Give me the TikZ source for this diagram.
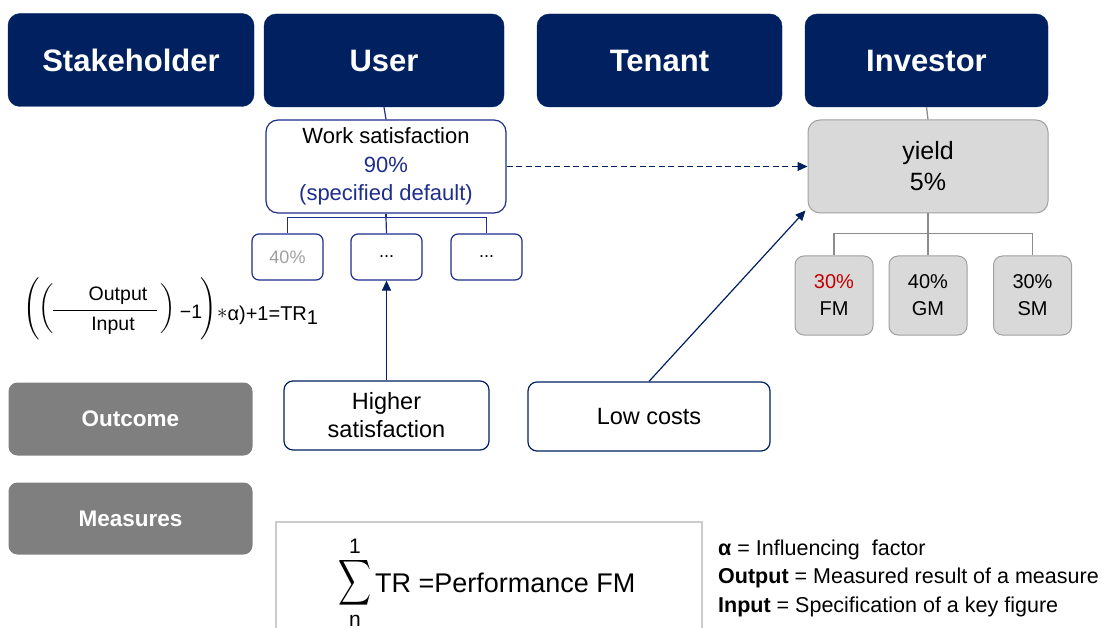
\documentclass[tikz,border=0pt]{standalone}
\usepackage{fontspec}
\usepackage{amsmath}
\usepackage{graphicx}
\setmainfont{Liberation Sans}
\usetikzlibrary{arrows.meta}
\definecolor{navy}{HTML}{002060}
\definecolor{bline}{HTML}{1F2D8C}
\definecolor{gfill}{HTML}{D9D9D9}
\definecolor{gline}{HTML}{A0A0A0}
\definecolor{gconn}{HTML}{8C8C8C}
\definecolor{ofill}{HTML}{7F7F7F}
\definecolor{fmred}{HTML}{C00000}
\tikzset{
  header/.style={fill=navy, draw=navy, rounded corners=12pt, text=white, font=\fontsize{31}{36}\selectfont\bfseries, minimum height=93pt, inner sep=0pt},
  wsbox/.style={draw=bline, line width=1.2pt, fill=white, rounded corners=12pt, minimum width=240pt, minimum height=93pt, align=center, inner sep=0pt},
  smallbox/.style={draw=bline, line width=1.2pt, rounded corners=7pt, minimum width=71pt, minimum height=46pt, inner sep=0pt, font=\fontsize{18}{20}\selectfont},
  ybox/.style={draw=gline, line width=1pt, fill=gfill, rounded corners=12pt, minimum width=240pt, minimum height=93pt, align=center, inner sep=0pt, font=\fontsize{25}{31}\selectfont},
  gbox/.style={draw=gline, line width=1pt, fill=gfill, rounded corners=9pt, minimum width=78pt, minimum height=79pt, align=center, inner sep=0pt, font=\fontsize{20}{27}\selectfont},
  obox/.style={fill=ofill, rounded corners=9pt, minimum width=244pt, text=white, font=\fontsize{22.5}{26}\selectfont\bfseries, inner sep=0pt},
  mbox/.style={draw=navy, line width=1.2pt, rounded corners=9pt, fill=white, minimum height=69pt, align=center, inner sep=0pt, font=\fontsize{23.5}{28}\selectfont},
  narrow/.style={draw=navy, line width=1.2pt, -{Triangle[length=10pt,width=9pt]}},
  ftext/.style={inner sep=0pt, font=\fontsize{19.5}{22}\selectfont},
  legend/.style={anchor=west, inner sep=0pt, font=\fontsize{21.5}{24}\selectfont},
}
\begin{document}
\begin{tikzpicture}[x=1pt,y=-1pt]
\useasboundingbox (0,0) rectangle (1105,628);
% headers
\node[header, minimum width=246pt] (stake) at (131,60) {Stakeholder};
\node[header, minimum width=240pt] (user) at (384,60.5) {User};
\node[header, minimum width=245pt] (tenant) at (659.5,60.5) {Tenant};
\node[header, minimum width=243pt] (invest) at (926.5,60.5) {Investor};
% work satisfaction
\node[wsbox, font=\fontsize{22}{28.5}\selectfont] (ws) at (386,166.5) {Work satisfaction\\\textcolor{bline}{90\%}\\\textcolor{bline}{(specified default)}};
\node[smallbox, text=gray!75] (d1) at (287.5,257) {40\%};
\node[smallbox] (d2) at (386.5,257) {...};
\node[smallbox] (d3) at (486.5,257) {...};
\draw[bline, line width=1.2pt] (user.south) -- (ws.north);
\draw[bline, line width=1.2pt] (ws.south) -- ++(0,4) coordinate (wsj);
\draw[bline, line width=1.2pt] (d1.north) |- (wsj) -| (d3.north);
\draw[bline, line width=1.2pt] (wsj) -- (d2.north);
% yield
\node[ybox] (yield) at (928,166.5) {yield\\5\%};
\node[gbox] (fm) at (834,295.5) {\textcolor{fmred}{30\%}\\FM};
\node[gbox] (gm) at (928,295.5) {40\%\\GM};
\node[gbox] (sm) at (1032.5,295.5) {30\%\\SM};
\draw[gconn, line width=1.3pt] (invest.south) -- (yield.north);
\draw[gconn, line width=1.3pt] (yield.south) -- ++(0,20) coordinate (yj);
\draw[gconn, line width=1.3pt] (fm.north) |- (yj) -| (sm.north);
\draw[gconn, line width=1.3pt] (yj) -- (gm.north);
% outcome / measures
\node[obox, minimum height=73pt] (outcome) at (130.5,419) {Outcome};
\node[obox, minimum height=72pt] (measures) at (130.5,518.5) {Measures};
\node[mbox, minimum width=205pt] (hs) at (386.5,415.5) {Higher\\satisfaction};
\node[mbox, minimum width=242pt] (low) at (649,416.5) {Low costs};
% arrows
\draw[narrow, dashed, dash pattern=on 6pt off 3.5pt] (ws.east) -- (yield.west);
\draw[narrow] (low.north) -- ([shift={(-2,-3)}]yield.south west);
\draw[narrow] (hs.north) -- (d2.south);
% left formula
\node[ftext] (po1) at (32,309) {$\left(\vcenter{\hrule height 62pt width 0pt}\right.$};
\node[ftext] (pi1) at (47,309) {$\left(\vcenter{\hrule height 52pt width 0pt}\right.$};
\node[ftext, anchor=base] (fnum) at (118,300) {Output};
\node[ftext, anchor=base] (fden) at (113,330) {Input};
\draw[line width=0.9pt] (53,310) -- (157,310);
\node[ftext] (pi2) at (168,309) {$\left.\vcenter{\hrule height 52pt width 0pt}\right)$};
\node[ftext, anchor=base] (fm1) at (191,318) {−1};
\node[ftext] (po2) at (208,309) {$\left.\vcenter{\hrule height 62pt width 0pt}\right)$};
\node[inner sep=0pt, anchor=base west, font=\fontsize{20}{22}\selectfont] (frest) at (217,320)
  {\raisebox{2pt}{$\ast$}α)+1=TR\raisebox{-4pt}{1}};
% bottom formula box
\draw[gray!40, line width=1.2pt] (276,640) -- (276,522) -- (702,522) -- (702,640);
\node[inner sep=0pt] (sig) at (354.5,582.5) {\resizebox*{33pt}{51pt}{$\displaystyle\sum$}};
\node[inner sep=0pt, anchor=base, font=\fontsize{21}{22}\selectfont] (sup1) at (355,553) {1};
\node[inner sep=0pt, anchor=base, font=\fontsize{21}{22}\selectfont] (subn) at (355,626.5) {n};
\node[inner sep=0pt, anchor=west, font=\fontsize{27}{30}\selectfont] (f2) at (375,583) {TR =Performance FM};
% legend
\node[legend] (l1) at (718,550) {\textbf{α} = Influencing\ \ factor};
\node[legend] (l2) at (718,578) {\textbf{Output} = Measured result of a measure};
\node[legend] (l3) at (718,607) {\textbf{Input} = Specification of a key figure};
\end{tikzpicture}
\end{document}
